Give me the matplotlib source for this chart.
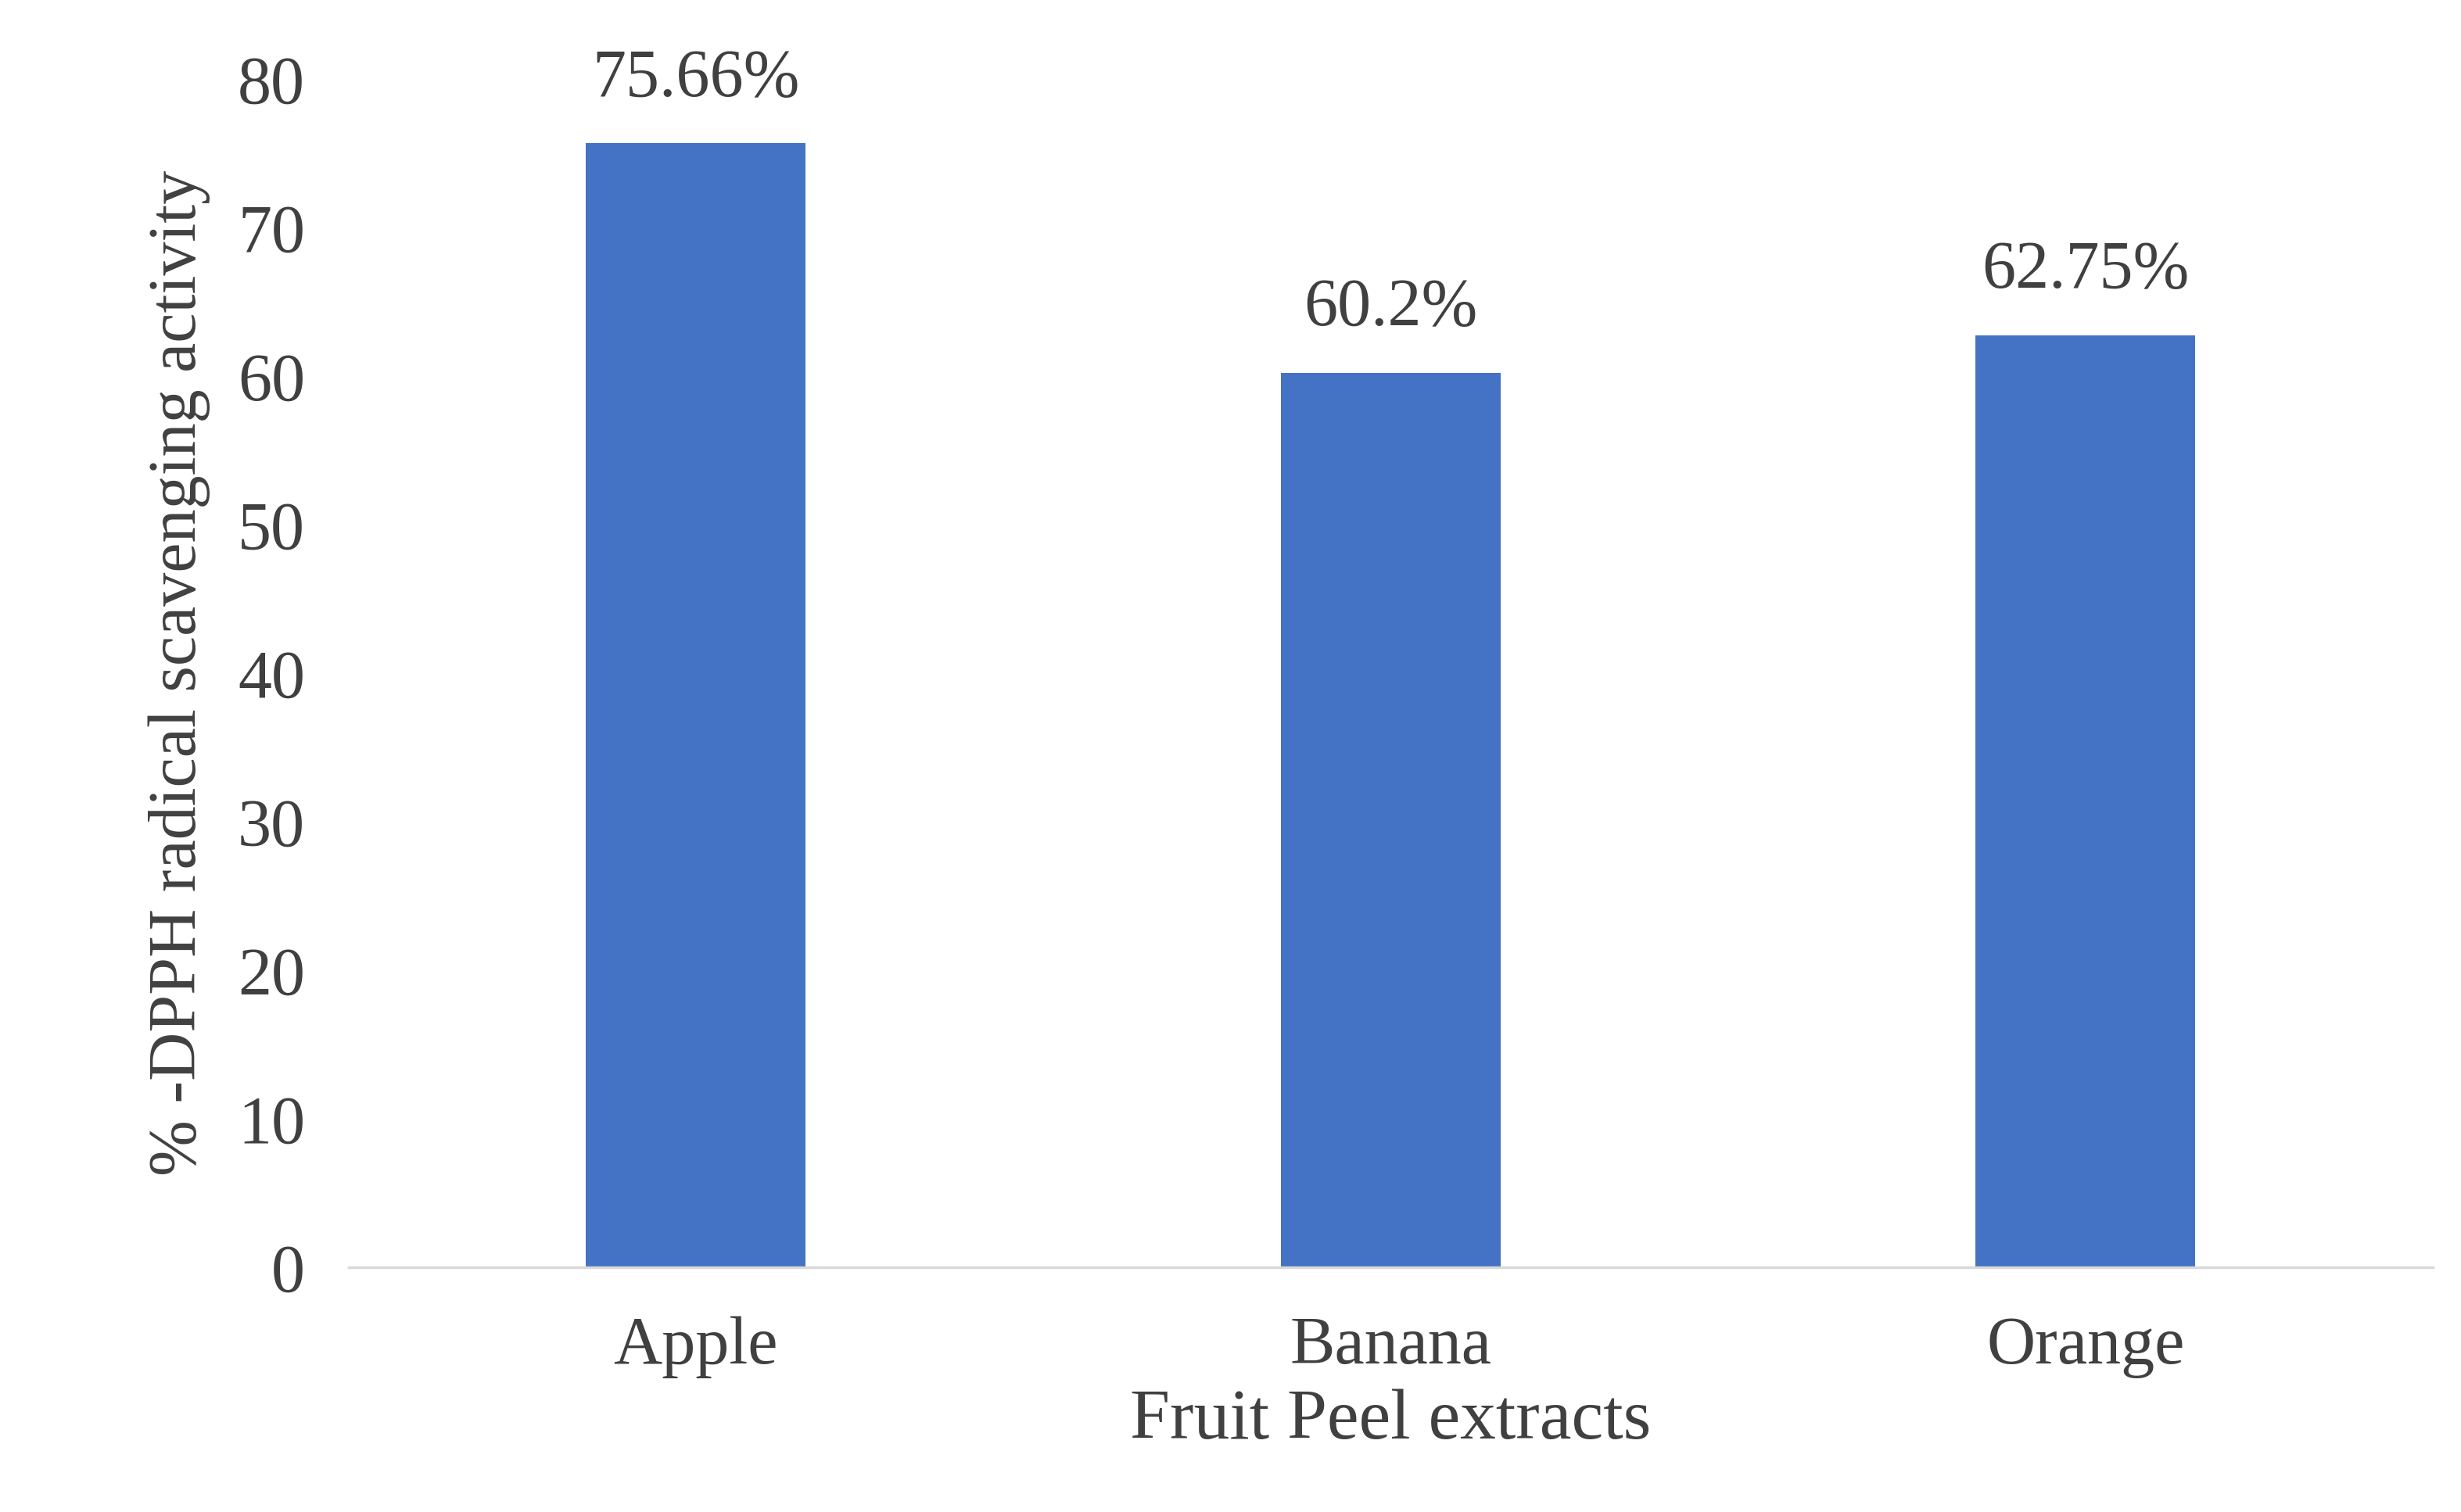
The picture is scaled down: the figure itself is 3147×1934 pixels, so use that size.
import matplotlib
matplotlib.use("Agg")
import matplotlib.pyplot as plt

# data
fruits = ["Apple", "Banana", "Orange"]
dpph = [75.66, 60.2, 62.75]
labels = ["75.66%", "60.2%", "62.75%"]

plt.rcParams['font.family'] = ['Liberation Serif', 'DejaVu Serif']
txt = '#404040'

fig = plt.figure(figsize=(31.47, 19.34), dpi=100)
ax = fig.add_axes([0.1416, 0.1618, 0.847, 0.786])

ax.bar(range(len(fruits)), dpph, width=0.316, color='#4472C4')
for i, v in enumerate(dpph):
    ax.text(i, v + 2.2, labels[i], ha='center', va='bottom', fontsize=62, color=txt)

ax.set_xlim(-0.5, len(fruits) - 0.5)
ax.set_ylim(0, 80)
ax.set_yticks(range(0, 81, 10))
ax.set_xticks(range(len(fruits)))
ax.set_xticklabels(fruits)
ax.tick_params(length=0, labelsize=62, labelcolor=txt)
ax.tick_params(axis='x', pad=45)
ax.tick_params(axis='y', pad=40)

for s in ['top', 'right', 'left']:
    ax.spines[s].set_visible(False)
ax.spines['bottom'].set_color('#d9d9d9')
ax.spines['bottom'].set_linewidth(2.5)

ax.set_xlabel("Fruit Peel extracts", fontsize=66, color=txt, labelpad=10)
ax.set_ylabel("% -DPPH radical scavenging activity", fontsize=62, color=txt, labelpad=25)

fig.savefig("out.png", dpi=100)
